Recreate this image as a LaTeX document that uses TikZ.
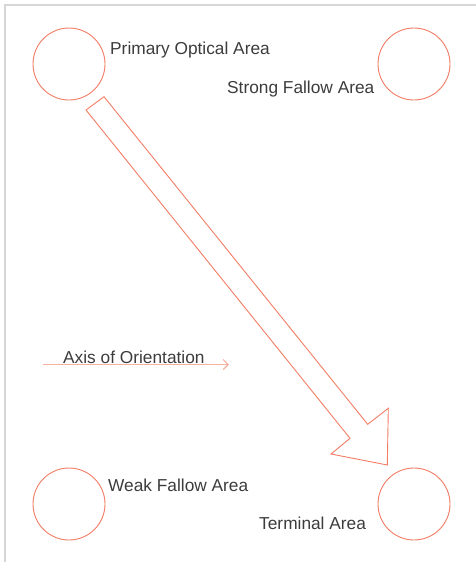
\documentclass[tikz,border=0pt]{standalone}
\usepackage{fontspec}
\setmainfont{Liberation Sans}
\usetikzlibrary{arrows.meta}
\definecolor{salmon}{RGB}{242,124,100}
\definecolor{palesalmon}{RGB}{248,176,160}
\definecolor{textgray}{RGB}{60,60,60}
\definecolor{framegray}{RGB}{215,215,215}
\tikzset{
  area/.style={circle,draw=salmon,line width=0.9pt,minimum size=72pt,inner sep=0pt},
  lbl/.style={anchor=west,inner sep=0pt,text=textgray,font=\fontsize{17.3}{20}\selectfont}
}
\begin{document}
\begin{tikzpicture}[x=1pt,y=-1pt]
\useasboundingbox (0,0) rectangle (476,562);
\draw[framegray,line width=1.2pt] (5,562) -- (5,5) -- (476,5);

% the four areas
\node[area] (primary) at (69,64) {};
\node[area] (strong) at (414,64) {};
\node[area] (weak) at (69,504) {};
\node[area] (terminal) at (414,504) {};

\node[lbl] (primarytxt) at (110,50) {Primary Optical Area};
\node[lbl] (strongtxt) at (227,89) {Strong Fallow Area};
\node[lbl] (weaktxt) at (108,485) {Weak Fallow Area};
\node[lbl] (terminaltxt) at (259,523) {Terminal Area};

% reading gravity
\draw[salmon,line width=0.9pt,line join=miter]
  (86,110) -- (104,96.7) -- (367.7,424.3) -- (388.3,408.3) -- (387.3,465)
  -- (331,454) -- (350,438.3) -- cycle;

% axis
\node[lbl] (axistxt) at (63,357) {Axis of Orientation};
\coordinate (axisfrom) at (43,364.5);
\coordinate (axisto) at (229,364.5);
\draw[palesalmon,line width=1.1pt,-{Straight Barb[length=5pt,width=10pt]}] (axisfrom) -- (axisto);
\end{tikzpicture}
\end{document}
